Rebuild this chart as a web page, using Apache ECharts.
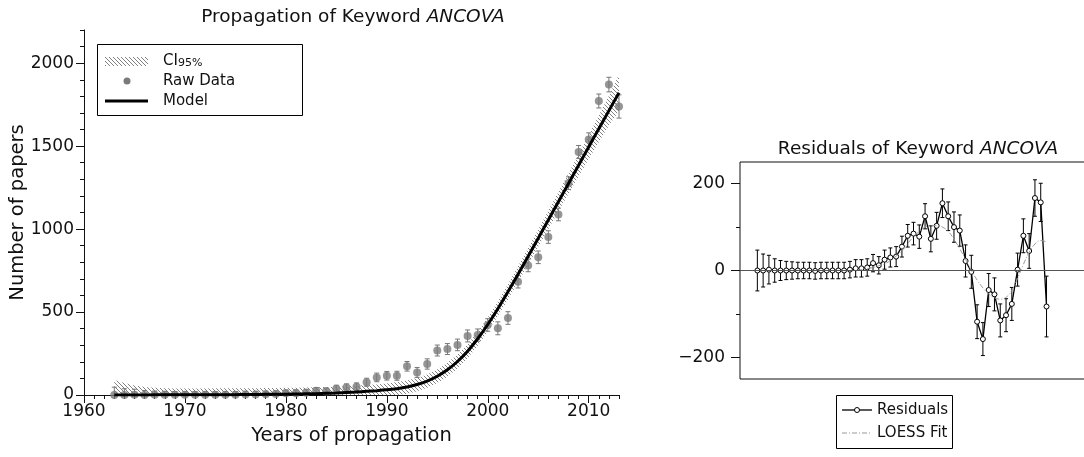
<!DOCTYPE html>
<html>
<head>
<meta charset="utf-8">
<script src="https://cdn.jsdelivr.net/npm/echarts@6/dist/echarts.min.js"></script>
<style>
  html, body { margin: 0; padding: 0; background: #fff; }
  #chart { width: 1084px; height: 457px; }
</style>
</head>
<body>
<div id="chart"></div>
<script>
// Publication years of the keyword and the fitted propagation model
const years = [1963, 1964, 1965, 1966, 1967, 1968, 1969, 1970, 1971, 1972,
  1973, 1974, 1975, 1976, 1977, 1978, 1979, 1980, 1981, 1982,
  1983, 1984, 1985, 1986, 1987, 1988, 1989, 1990, 1991, 1992,
  1993, 1994, 1995, 1996, 1997, 1998, 1999, 2000, 2001, 2002,
  2003, 2004, 2005, 2006, 2007, 2008, 2009, 2010, 2011, 2012, 2013];

// Model curve (number of papers)
const modelValues = [0, 0, 0, 0, 1, 1, 1, 1, 1, 1,
  2, 2, 2, 3, 3, 4, 4, 5, 6, 7,
  8, 10, 12, 15, 18, 22, 26, 31, 38, 48,
  63, 84, 113, 152, 202, 264, 339, 425, 520, 622,
  728, 836, 945, 1055, 1165, 1275, 1385, 1495, 1605, 1714, 1822];

// Observed number of papers per year
const rawValues = [0, 0, 2, 0, 1, 1, 1, 1, 1, 1,
  1, 2, 2, 3, 3, 4, 6, 10, 11, 14,
  25, 22, 37, 45, 50, 77, 106, 116, 116, 173,
  136, 187, 268, 277, 302, 356, 361, 422, 402, 464,
  683, 781, 830, 952, 1088, 1277, 1465, 1540, 1772, 1871, 1739];

// Residuals (observed minus model)
const residualValues = [0, 0, 2, 0, 0, 0, 0, 0, 0, 0,
  -1, 0, 0, 0, 0, 0, 2, 5, 5, 7,
  17, 12, 25, 30, 32, 55, 80, 85, 78, 125,
  73, 103, 155, 125, 100, 92, 22, -3, -118, -158,
  -45, -55, -115, -103, -77, 2, 80, 45, 167, 157, -83];

// Half-length of the error bars
const errorHalf = [47, 38, 33, 27, 23, 21, 20, 19, 19, 19,
  19, 19, 19, 19, 19, 19, 19, 20, 20, 20,
  20, 20, 22, 22, 23, 24, 26, 26, 27, 29,
  30, 31, 33, 33, 35, 36, 37, 38, 39, 38,
  38, 38, 38, 38, 38, 38, 39, 40, 42, 44, 70];

// Half-width of the 95% confidence band around the model
const ciHalf = [90, 72, 58, 48, 42, 39, 38, 38, 38, 38,
  38, 38, 38, 38, 38, 38, 38, 38, 38, 38,
  38, 38, 38, 38, 38, 38, 38, 38, 40, 40,
  40, 40, 40, 42, 42, 42, 42, 42, 44, 46,
  48, 50, 52, 55, 58, 62, 66, 72, 80, 90, 110];

// LOESS smooth of the residuals
const loessValues = [0, 0, 0, 0, 0, 0, 0, 0, 0, 0,
  0, 0, 0, 0, 0, 0, 0, 0, 2, 4,
  7, 11, 15, 23, 33, 46, 62, 78, 90, 100,
  104, 103, 100, 90, 72, 50, 26, 0, -22, -40,
  -54, -63, -66, -62, -46, -18, 14, 42, 61, 69, 66];

// Axis tick labels
const yearTicks = [1960, 1970, 1980, 1990, 2000, 2010];
const paperTicks = [0, 500, 1000, 1500, 2000];
const residualTicks = [-200, 0, 200];

const FONT = 'DejaVu Sans';
const INK = '#111';
const TICK_SIZE = 17;
const NAME_SIZE = 19.5;
const TITLE_SIZE = 18.5;
const LEGEND_SIZE = 15;

// Minor tick positions (no labels)
const minorYears = [];
for (let y = 1961; y <= 2013; y++) if (y % 10 !== 0) minorYears.push(y);
const minorPapers = [];
for (let v = 100; v <= 2200; v += 100) if (v % 500 !== 0) minorPapers.push(v);
const minorResiduals = [-100, 100];

// Diagonal hatch tile used for the confidence band
function hatchTile() {
  const c = document.createElement('canvas');
  c.width = 4; c.height = 4;
  const g = c.getContext('2d');
  g.strokeStyle = '#808080';
  g.lineWidth = 1;
  g.beginPath();
  g.moveTo(-1, -1); g.lineTo(5, 5);
  g.moveTo(-1, 3); g.lineTo(1, 5);
  g.moveTo(3, -1); g.lineTo(5, 1);
  g.stroke();
  return c;
}
const hatch = { image: hatchTile(), repeat: 'repeat' };

// Vertical error bar with caps
function errorBar(color, cap) {
  return function (params, api) {
    const x = api.value(0);
    const cs = params.coordSys;
    const yMax = cs.y + cs.height;
    const top = api.coord([x, api.value(2)]);
    const bot = api.coord([x, api.value(1)]);
    const st = { stroke: color, lineWidth: 1 };
    const parts = [
      { type: 'line', shape: { x1: top[0], y1: top[1], x2: bot[0], y2: Math.min(bot[1], yMax) }, style: st },
      { type: 'line', shape: { x1: top[0] - cap, y1: top[1], x2: top[0] + cap, y2: top[1] }, style: st }
    ];
    if (bot[1] <= yMax) {
      parts.push({ type: 'line', shape: { x1: bot[0] - cap, y1: bot[1], x2: bot[0] + cap, y2: bot[1] }, style: st });
    }
    return { type: 'group', children: parts };
  };
}

// Confidence band as one hatched polygon, cut at the bottom of the plot
const ciData = years.map((y, i) => [y, modelValues[i] - ciHalf[i], modelValues[i] + ciHalf[i]]);
function ciBand(params, api) {
  if (params.dataIndex !== 0) return null;
  const cs = params.coordSys;
  const yMax = cs.y + cs.height;
  const upper = ciData.map((d) => api.coord([d[0], d[2]]));
  const lower = ciData.map((d) => {
    const p = api.coord([d[0], d[1]]);
    return [p[0], Math.min(p[1], yMax)];
  }).reverse();
  return {
    type: 'polygon',
    shape: { points: upper.concat(lower) },
    style: { fill: hatch, stroke: null }
  };
}

const pair = (vals) => years.map((y, i) => [y, vals[i]]);
const plain = (v) => String(v).replace('-', '\u2212');
const txt = (size) => ({ fontFamily: FONT, fontSize: size, color: INK });

const option = {
  backgroundColor: '#fff',
  animation: false,
  title: [
    {
      text: 'Propagation of Keyword {i|ANCOVA}',
      left: 348, top: 3, textAlign: 'center',
      textStyle: { fontFamily: FONT, fontSize: TITLE_SIZE, fontWeight: 'normal', color: INK,
        rich: { i: { fontFamily: FONT, fontSize: TITLE_SIZE, fontStyle: 'italic', color: INK } } }
    },
    {
      text: 'Residuals of Keyword {i|ANCOVA}',
      left: 913, top: 135, textAlign: 'center',
      textStyle: { fontFamily: FONT, fontSize: TITLE_SIZE, fontWeight: 'normal', color: INK,
        rich: { i: { fontFamily: FONT, fontSize: TITLE_SIZE, fontStyle: 'italic', color: INK } } }
    }
  ],
  grid: [
    { left: 84, right: 465, top: 30, bottom: 62, outerBoundsMode: 'none' },
    { left: 740, right: -3, top: 162, bottom: 78, outerBoundsMode: 'none',
      show: true, borderColor: INK, borderWidth: 1, backgroundColor: 'transparent' }
  ],
  xAxis: [
    { // years, major ticks and labels
      type: 'value', gridIndex: 0, min: 1960, max: 2013, position: 'bottom',
      name: 'Years of propagation', nameLocation: 'middle', nameGap: 31, nameMoveOverlap: false,
      nameTextStyle: txt(NAME_SIZE),
      axisLine: { show: true, onZero: false, lineStyle: { color: INK, width: 1 } },
      axisTick: { show: true, length: 8, customValues: yearTicks, lineStyle: { color: INK } },
      axisLabel: { show: true, margin: 8, customValues: yearTicks, formatter: plain, ...txt(TICK_SIZE) },
      splitLine: { show: false }
    },
    { // years, minor ticks
      type: 'value', gridIndex: 0, min: 1960, max: 2013, position: 'bottom',
      axisLine: { show: false, onZero: false },
      axisTick: { show: true, length: 4, customValues: minorYears, lineStyle: { color: INK } },
      axisLabel: { show: false }, splitLine: { show: false }
    },
    { // frame top edge
      type: 'value', gridIndex: 0, min: 1960, max: 2013, position: 'top',
      axisLine: { show: true, lineStyle: { color: INK, width: 1 } },
      axisTick: { show: false }, axisLabel: { show: false }, splitLine: { show: false }
    },
    {
      type: 'value', gridIndex: 1, min: 1960, max: 2020,
      axisLine: { show: false, onZero: false }, axisTick: { show: false },
      axisLabel: { show: false }, splitLine: { show: false }
    }
  ],
  yAxis: [
    { // papers, major ticks and labels
      type: 'value', gridIndex: 0, min: 0, max: 2200, position: 'left',
      name: 'Number of papers', nameLocation: 'middle', nameGap: 56, nameMoveOverlap: false,
      nameTextStyle: txt(NAME_SIZE),
      axisLine: { show: true, onZero: false, lineStyle: { color: INK, width: 1 } },
      axisTick: { show: true, length: 8, customValues: paperTicks, lineStyle: { color: INK } },
      axisLabel: { show: true, margin: 10, customValues: paperTicks, formatter: plain, ...txt(TICK_SIZE) },
      splitLine: { show: false }
    },
    { // papers, minor ticks
      type: 'value', gridIndex: 0, min: 0, max: 2200, position: 'left',
      axisLine: { show: false, onZero: false },
      axisTick: { show: true, length: 4, customValues: minorPapers, lineStyle: { color: INK } },
      axisLabel: { show: false }, splitLine: { show: false }
    },
    { // residuals, major ticks and labels
      type: 'value', gridIndex: 1, min: -250, max: 250, position: 'left',
      axisLine: { show: false, onZero: false },
      axisTick: { show: true, length: 9, customValues: residualTicks, lineStyle: { color: INK } },
      axisLabel: { show: true, margin: 15, customValues: residualTicks, formatter: plain, ...txt(TICK_SIZE) },
      splitLine: { show: false }
    },
    { // residuals, minor ticks
      type: 'value', gridIndex: 1, min: -250, max: 250, position: 'left',
      axisLine: { show: false, onZero: false },
      axisTick: { show: true, length: 4, customValues: minorResiduals, lineStyle: { color: INK } },
      axisLabel: { show: false }, splitLine: { show: false }
    }
  ],
  series: [
    {
      name: 'CI95%', type: 'custom', xAxisIndex: 0, yAxisIndex: 0,
      renderItem: ciBand, silent: true, encode: { x: 0, y: [1, 2] },
      data: ciData, z: 1
    },
    {
      name: 'Raw Data errors', type: 'custom', xAxisIndex: 0, yAxisIndex: 0,
      renderItem: errorBar('#777', 2.5), silent: true,
      encode: { x: 0, y: [1, 2] },
      data: years.map((y, i) => [y, rawValues[i] - errorHalf[i], rawValues[i] + errorHalf[i]]),
      z: 2
    },
    {
      name: 'Raw Data', type: 'scatter', xAxisIndex: 0, yAxisIndex: 0,
      data: pair(rawValues), symbol: 'circle', symbolSize: 8,
      itemStyle: { color: '#7a7a7a' }, z: 3
    },
    {
      name: 'Model', type: 'line', xAxisIndex: 0, yAxisIndex: 0,
      data: pair(modelValues), symbol: 'none', smooth: 0.3,
      lineStyle: { color: '#000', width: 3 }, z: 4
    },
    // residual panel
    {
      name: 'Residual errors', type: 'custom', xAxisIndex: 3, yAxisIndex: 2,
      renderItem: errorBar('#000', 2), silent: true,
      encode: { x: 0, y: [1, 2] },
      data: years.map((y, i) => [y, residualValues[i] - errorHalf[i], residualValues[i] + errorHalf[i]]),
      z: 2
    },
    {
      name: 'Residuals', type: 'line', xAxisIndex: 3, yAxisIndex: 2,
      data: pair(residualValues), symbol: 'circle', symbolSize: 5, showSymbol: true,
      lineStyle: { color: '#000', width: 1.3 },
      itemStyle: { color: '#fff', borderColor: '#000', borderWidth: 1 },
      markLine: {
        silent: true, symbol: 'none', label: { show: false },
        lineStyle: { color: '#555', width: 1, type: 'solid' },
        data: [{ yAxis: 0 }]
      },
      z: 3
    },
    {
      name: 'LOESS Fit', type: 'line', xAxisIndex: 3, yAxisIndex: 2,
      data: pair(loessValues), symbol: 'none', smooth: 0.4,
      lineStyle: { color: '#999', width: 1, type: [5, 2, 1, 2] }, z: 4
    }
  ],
  graphic: [
    // legend of the propagation panel
    { type: 'rect', shape: { x: 97.5, y: 44.5, width: 205, height: 71 },
      style: { fill: '#fff', stroke: '#000', lineWidth: 1 }, z: 100 },
    { type: 'rect', shape: { x: 105, y: 57, width: 43, height: 9 },
      style: { fill: hatch }, z: 101 },
    { type: 'circle', shape: { cx: 127, cy: 81, r: 3.5 }, style: { fill: '#7a7a7a' }, z: 101 },
    { type: 'line', shape: { x1: 105, y1: 101, x2: 148, y2: 101 },
      style: { stroke: '#000', lineWidth: 3 }, z: 101 },
    { type: 'text', x: 163, y: 61, z: 101,
      style: { text: 'CI{s|95%}', fontFamily: FONT, fontSize: LEGEND_SIZE, fill: INK, verticalAlign: 'middle',
        rich: { s: { fontFamily: FONT, fontSize: 11, fill: INK, verticalAlign: 'bottom' } } } },
    { type: 'text', x: 163, y: 81, z: 101,
      style: { text: 'Raw Data', fontFamily: FONT, fontSize: LEGEND_SIZE, fill: INK, verticalAlign: 'middle' } },
    { type: 'text', x: 163, y: 101, z: 101,
      style: { text: 'Model', fontFamily: FONT, fontSize: LEGEND_SIZE, fill: INK, verticalAlign: 'middle' } },
    // legend of the residual panel
    { type: 'rect', shape: { x: 836.5, y: 395.5, width: 116, height: 53 },
      style: { fill: '#fff', stroke: '#000', lineWidth: 1 }, z: 100 },
    { type: 'line', shape: { x1: 842, y1: 410, x2: 872, y2: 410 },
      style: { stroke: '#000', lineWidth: 1.3 }, z: 101 },
    { type: 'circle', shape: { cx: 857, cy: 410, r: 2.5 },
      style: { fill: '#fff', stroke: '#000', lineWidth: 1 }, z: 102 },
    { type: 'line', shape: { x1: 842, y1: 433, x2: 872, y2: 433 },
      style: { stroke: '#999', lineWidth: 1, lineDash: [5, 2, 1, 2] }, z: 101 },
    { type: 'text', x: 877, y: 410, z: 101,
      style: { text: 'Residuals', fontFamily: FONT, fontSize: LEGEND_SIZE, fill: INK, verticalAlign: 'middle' } },
    { type: 'text', x: 877, y: 433, z: 101,
      style: { text: 'LOESS Fit', fontFamily: FONT, fontSize: LEGEND_SIZE, fill: INK, verticalAlign: 'middle' } }
  ]
};

const chart = echarts.init(document.getElementById('chart'), null, { renderer: 'canvas' });
chart.setOption(option);
</script>
</body>
</html>
